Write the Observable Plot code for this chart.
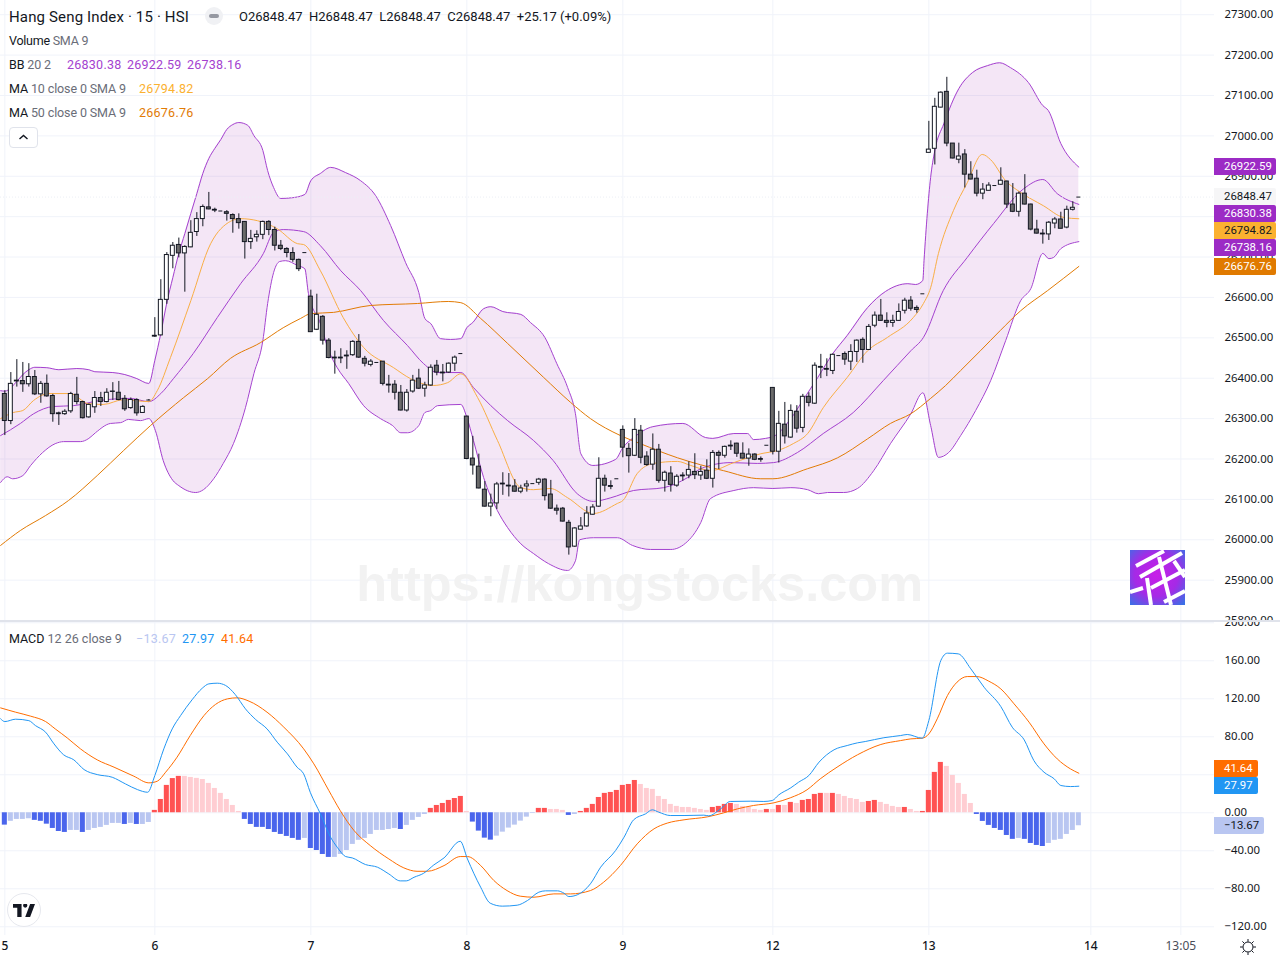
<!DOCTYPE html>
<html>
<head>
<meta charset="utf-8">
<script src="https://cdn.jsdelivr.net/npm/d3@7"></script>
<script src="https://cdn.jsdelivr.net/npm/@observablehq/plot@0.6"></script>
<style>
html,body{margin:0;padding:0;background:#fff;overflow:hidden}
#root{position:relative;width:1280px;height:960px;overflow:hidden;font-family:Roboto,"Liberation Sans",sans-serif;color:#131722}
#root svg.p{position:absolute;left:0;background:transparent}
.row{position:absolute;left:9px;font-size:12.5px;line-height:16px;white-space:pre;height:16px;letter-spacing:-0.12px}
.row .g{color:#6a6d78}
.val{position:absolute;top:0;letter-spacing:0.25px}
.box{position:absolute;left:1214px;height:17px;line-height:17px;font-size:11.4px;padding-left:10px;box-sizing:border-box;border-radius:0 2px 2px 0}
</style>
</head>
<body>
<div id="root"></div>
<script>
// ---------- candles (15 min, Hang Seng Index) ----------
const opens = [
26361,26294,26394,26393,26385,26403,26360,26386,26356,26313,
26311,26318,26359,26341,26303,26328,26351,26341,26366,26364,
26349,26326,26346,26314,26346,26505,26506,26594,26703,26730,
26709,26724,26762,26794,26823,26817,26814,26811,26804,26794,
26787,26737,26749,26755,26787,26767,26728,26720,26710,26693,
26711,26602,26520,26552,26493,26451,26451,26454,26457,26490,
26448,26433,26439,26441,26384,26384,26364,26320,26367,26399,
26374,26382,26431,26414,26414,26436,26461,26305,26201,26181,
26124,26082,26090,26139,26134,26132,26119,26132,26139,26141,
26149,26112,26077,26077,26042,25983,26025,26033,26062,26082,
26151,26133,26151,26272,26225,26208,26270,26206,26186,26223,
26146,26164,26134,26159,26159,26168,26159,26171,26151,26215,
26208,26233,26238,26213,26201,26211,26200,26234,26376,26218,
26285,26253,26317,26277,26354,26337,26428,26423,26418,26456,
26460,26441,26465,26495,26470,26530,26555,26542,26537,26542,
26567,26592,26574,26609,26958,26968,27070,27109,26981,26941,
26954,26904,26894,26857,26864,26877,26879,26887,26830,26812,
26857,26830,26768,26758,26756,26783,26793,26773,26817,26848.47];
const highs = [
26369,26414,26446,26439,26436,26419,26392,26408,26360,26316,
26322,26365,26402,26343,26336,26367,26365,26374,26389,26392,
26357,26351,26349,26332,26347,26550,26644,26711,26736,26747,
26728,26790,26810,26829,26860,26821,26814,26815,26807,26807,
26788,26766,26765,26789,26790,26774,26741,26723,26723,26695,
26711,26618,26608,26555,26498,26467,26473,26468,26493,26508,
26454,26446,26439,26441,26407,26394,26382,26372,26407,26422,
26390,26433,26444,26434,26438,26455,26461,26306,26256,26212,
26144,26113,26142,26166,26164,26149,26135,26146,26139,26152,
26151,26147,26086,26080,26048,26030,26055,26082,26087,26203,
26160,26146,26151,26282,26238,26300,26283,26218,26262,26236,
26170,26181,26161,26166,26193,26213,26182,26198,26221,26220,
26232,26245,26239,26240,26225,26213,26205,26234,26376,26318,
26340,26334,26332,26360,26364,26438,26459,26448,26460,26456,
26465,26483,26495,26500,26533,26564,26595,26562,26556,26584,
26598,26602,26579,26609,27036,27093,27109,27145,26981,26982,
26966,26936,26915,26882,26884,26877,26921,26888,26882,26861,
26904,26831,26791,26768,26788,26798,26811,26826,26837,26848.47];
const lows = [
26258,26285,26378,26365,26378,26357,26338,26353,26291,26283,
26308,26313,26334,26299,26301,26313,26330,26339,26345,26344,
26318,26323,26306,26313,26344,26501,26505,26583,26671,26698,
26613,26723,26751,26775,26817,26810,26814,26789,26759,26769,
26695,26719,26737,26743,26753,26715,26716,26698,26687,26664,
26711,26514,26518,26482,26448,26410,26436,26422,26454,26449,
26428,26428,26439,26381,26363,26346,26319,26316,26363,26372,
26353,26380,26406,26391,26412,26417,26461,26198,26160,26126,
26081,26057,26075,26110,26106,26118,26114,26118,26139,26135,
26096,26075,26061,26044,25962,25981,26024,26031,26061,26080,
26118,26124,26151,26203,26165,26206,26188,26182,26172,26140,
26118,26118,26130,26145,26151,26149,26147,26149,26128,26174,
26202,26221,26204,26200,26182,26196,26192,26234,26210,26190,
26237,26251,26264,26265,26329,26335,26399,26404,26409,26456,
26432,26419,26439,26437,26469,26525,26541,26525,26526,26541,
26559,26566,26561,26609,26958,26928,27069,26973,26943,26931,
26871,26891,26849,26842,26864,26877,26878,26820,26810,26799,
26829,26765,26757,26732,26741,26770,26770,26770,26814,26848.47];
const closes = [
26294,26386,26392,26385,26403,26360,26386,26355,26311,26311,
26317,26361,26341,26301,26334,26351,26341,26364,26367,26346,
26323,26346,26313,26329,26346,26503,26594,26705,26728,26709,
26725,26760,26794,26824,26818,26815,26814,26807,26794,26784,
26737,26745,26755,26787,26767,26728,26720,26710,26693,26670,
26711,26514,26557,26493,26450,26449,26449,26456,26490,26451,
26436,26441,26439,26386,26382,26364,26320,26364,26394,26374,
26382,26426,26414,26412,26436,26451,26461,26200,26184,26127,
26082,26090,26137,26137,26132,26119,26127,26137,26139,26149,
26108,26077,26072,26045,25981,26028,26033,26065,26080,26151,
26134,26131,26151,26228,26207,26272,26203,26185,26223,26146,
26166,26136,26156,26157,26173,26160,26168,26151,26215,26208,
26230,26231,26213,26201,26211,26198,26198,26234,26218,26287,
26256,26319,26275,26354,26339,26431,26426,26421,26458,26456,
26446,26465,26493,26470,26527,26555,26542,26537,26542,26564,
26592,26572,26569,26609,26966,27072,27107,26981,26944,26949,
26904,26892,26857,26867,26877,26877,26889,26830,26812,26857,
26830,26768,26758,26756,26785,26793,26770,26817,26822,26848.47];

// ---------- Bollinger bands: bar position, value ----------
const upperBar = [-0.7,0,2,3,4,5,7,9,12,14,15,18,20,22,24,25,26,27,28,29,30,31,32,33,34,35,36,37,38,39,40.5,41.5,43,43.8,44.8,46,48,50,51,52.6,54.3,56.8,59.3,61.8,64.3,66.8,69,70,71,72.6,74.3,76,77,78,79.8,81,83,86,87.6,90,92,93.8,95.1,96,98,101.8,103,104.8,108,113,116.8,118,121.5,123.8,124.8,126.8,128.4,131,133,135.5,138,140.4,143.8,146.8,150.5,151.8,153,153.2,154.3,155,156.5,159,161.3,163.8,165.8,167.6,170.6,173,173.9,176,179];
const upperVal = [26369,26368,26392,26409,26421,26427,26426,26421,26424,26421,26416,26414,26409,26399,26387,26444,26511,26587,26649,26709,26758,26808,26857,26907,26944,26969,26991,27016,27028,27033,27026,27001,26964,26914,26872,26845,26847,26855,26889,26907,26922,26909,26889,26852,26778,26686,26612,26548,26535,26498,26496,26498,26525,26538,26572,26577,26565,26558,26538,26501,26436,26377,26312,26213,26184,26199,26228,26253,26280,26288,26253,26251,26263,26263,26248,26251,26258,26300,26345,26402,26461,26506,26575,26615,26634,26632,26642,26691,26897,26964,27030,27117,27157,27174,27181,27169,27132,27075,27063,26981,26922.59];
const lowerBar = [-0.7,0.4,1.3,3,4.3,6.3,8.4,9.8,12.6,14,15.1,17.6,19.3,20.6,22.6,24,25.1,26.4,28,29,31.8,33.1,34.8,36.4,38.1,40.1,41.5,43,43.8,44.8,45.8,46.8,48.8,50,50.6,52.6,54,55.4,57.3,59.8,62.6,64.6,66,67.1,69,70,71,72.1,76,77,78.1,79.8,82.1,83.8,86,88.1,90.6,93.8,95.1,95.8,98.1,102.1,104.6,107.6,111,113.4,116,117.6,121.5,124.8,128,131,133.8,135.6,137.1,139.8,142.1,144.8,147.6,151,153,154.3,155.6,157.3,159.3,161.8,164.3,166.8,169.3,171,173,174,174.8,176,179];
const lowerVal = [26142,26156,26151,26159,26184,26216,26238,26243,26243,26251,26265,26288,26290,26298,26295,26300,26270,26196,26147,26134,26117,26124,26151,26189,26238,26327,26411,26493,26585,26662,26689,26691,26679,26671,26610,26535,26468,26426,26387,26332,26300,26283,26265,26265,26283,26315,26320,26332,26335,26303,26246,26154,26072,26030,25990,25966,25941,25924,25948,26000,26005,26005,25986,25976,25976,25991,26043,26102,26122,26129,26127,26129,26124,26114,26117,26117,26127,26171,26238,26312,26364,26283,26204,26216,26258,26320,26394,26493,26592,26622,26709,26696,26699,26721,26738.16];
const basisBar = [-0.7,2.6,4.8,8.1,11.4,15.9,20.9,24,26,28.1,31.4,35.4,39.3,43.1,44.8,46.4,49.8,52.6,56,59.3,63.1,67.1,69.8,72.1,76,78.1,81,83.8,88.1,91.4,95.4,98.1,101,104.8,109.8,113.8,116,121,125.4,128.1,132.1,136.4,141.4,146.4,151,153.1,156.4,160.4,164.8,169.8,173,175.4,179];
const basisVal = [26258,26288,26312,26330,26332,26345,26350,26342,26362,26399,26461,26550,26634,26709,26761,26768,26763,26728,26666,26617,26543,26481,26436,26414,26414,26377,26332,26295,26246,26196,26114,26095,26104,26122,26129,26154,26176,26191,26189,26191,26216,26263,26315,26394,26468,26501,26617,26699,26783,26869,26892,26857,26830.38];

// ---------- moving averages ----------
const ma10Bar = [-0.7,1.4,3,4.8,7.3,10.9,13.9,16.4,19.8,24,25.4,27.6,31,34.3,36,39.3,42.1,45.4,48.8,49.8,52.6,56.4,59.8,64.8,67.6,71.4,73.8,76,78.8,82.1,86,88.1,90.9,93.8,98.1,102.1,103,105.4,108.1,112.1,114.3,117.6,121.5,126,128.8,131.4,133.8,136.4,140.4,143.8,147.1,151.4,153.1,154.3,155.6,158.1,160.4,162.9,164.3,166.8,169.3,173.1,176.5,179];
const ma10Val = [26300,26315,26320,26345,26362,26362,26337,26335,26347,26342,26369,26451,26592,26733,26770,26795,26790,26770,26733,26731,26666,26550,26476,26426,26399,26382,26389,26411,26352,26246,26129,26124,26127,26104,26065,26090,26097,26164,26189,26194,26184,26171,26191,26213,26221,26238,26263,26327,26402,26468,26501,26550,26585,26624,26709,26815,26884,26954,26941,26889,26860,26827,26798,26794.82];
const ma50Bar = [-0.7,2.6,6.8,10.6,15.4,19.8,24.3,29.8,33.8,37.6,42.6,46.4,49.3,51,54.8,60.9,68.8,73.9,76,79.3,83.8,89.8,94.3,97.6,102.6,105.9,112.1,119.8,126,128,133.8,138.8,143.8,147.6,151,154.3,156.8,159.3,162.6,165.9,169.3,173.8,179];
const ma50Val = [25986,26023,26060,26097,26159,26221,26283,26352,26399,26449,26488,26525,26548,26560,26563,26580,26585,26590,26587,26548,26486,26402,26340,26300,26258,26238,26203,26171,26151,26151,26176,26203,26250,26288,26312,26350,26382,26419,26468,26518,26567,26617,26676.76];

// ---------- MACD ----------
const histVal = [
-13,-9,-7,-7,-6.3,-8,-9,-12,-16.5,-19.7,
-20.7,-18.6,-18.6,-20.7,-18.6,-16.5,-15.4,-13.3,-11.2,-11.2,
-12.3,-11.2,-12.3,-12.3,-10.2,2.5,14,28.8,36,38.3,
38.3,37.2,36.2,35,30.9,25.6,20.4,14,7.7,1.4,
-7,-12.3,-15.4,-15.4,-17.6,-20.7,-22.8,-24.9,-27,-29,
-27,-37.6,-39.7,-43.9,-47,-47,-43.9,-39.7,-33.3,-29,
-27,-22.8,-18.6,-18.6,-17.6,-16.5,-17.6,-13.3,-8,-4.9,
-1.8,4.6,7.7,9.8,13,15,17.2,1.4,-9.8,-19.3,
-26.7,-28.8,-24.6,-20.4,-16.1,-13,-8.8,-4.6,-0.7,4.6,
4.6,3.5,3.5,2.5,-2.8,-1.8,1.4,4.6,8.8,16.1,
20.4,21.4,23.5,28.8,29.8,34,29.8,25.6,24.6,17.2,
14,8.8,6.7,5.6,5.6,4.6,3.5,2.5,5.6,6.7,
8.8,9.8,8.8,6.7,5.6,3.5,2.5,3.5,3.5,7.7,
7.7,10.9,9.8,13,14,19.3,20.4,20.4,20.4,19.3,
17.2,15,14,10.9,11.9,13,10.9,8.8,6.7,5.6,
5.6,3.5,1.4,1.4,23.5,42.5,53,48.8,39.3,30.9,
19.3,9.8,-1.8,-9.1,-13.3,-16.5,-18.6,-23.9,-28,-27,
-28,-32.3,-34.4,-35.5,-32.3,-29,-28,-22.8,-18.6,-13.67];
const histKind = ("DLLLLDDDDDDLLDLLLLLLDLDLL"+"RRRRR"+"PPPPPPPPPP"+"DDDDDDDDDD"+"L"+"DDDD"+"LLLLLLLLLLL"+"D"+"LLLL"+"RRRRRR"+"P"+"DDDD"+"LLLLLLL"+"RR"+"PPP"+"D"+"L"+"RRRRRRRRRR"+"PPPPPPPPPPPP"+"RRRR"+"PPPPP"+"RPRPRP"+"RRRR"+"P"+"R"+"PPPPP"+"RR"+"PPPP"+"R"+"PP"+"RRRR"+"PPPPP"+"DDDDDDD"+"L"+"DDDD"+"LLLLLL").split("");
const histColor = {R:"#ff5252",P:"#ffcdd2",D:"#4a65ec",L:"#b9c6f1"};

const macdBar = [-0.7,0,1.8,4,5.1,6.8,8.2,9.8,11.5,13.2,15.4,17.9,20.1,22.1,23.8,25,26.5,27.9,29.3,31.2,32.9,34,35.4,36.8,38.4,40.1,41.8,43.7,45.4,47.1,48.7,49.8,50.9,52.6,54.3,55.4,56.8,57.9,60.1,62.1,64,65.9,66.9,68.2,69.8,71.5,73.2,75.9,77.1,79.3,80.9,82.9,85.4,87.1,89,90.1,92.1,93.2,94,95.4,97.6,99.3,101.8,103.2,104.8,106.8,107.9,109,110.9,113.2,116.5,117.3,119.3,120.9,124.3,126.5,127.9,129,131,132.3,134,135.7,138.2,140.4,142.1,143.4,146.5,149.3,150.4,152.9,154,156,157.1,158.9,161,163.2,166,167.9,169.9,171.5,173.2,174.9,176,177.6,179];
const macdVal = [98.9,96,98.5,97,91.8,84.8,72.5,61,55.7,45.5,40.2,37.4,30.4,24.4,21.6,39.2,67.3,88.3,102.4,118.9,131.1,135.7,136.4,134,124.5,109.4,98.2,88.3,74.3,62,48,41,21.6,-1.2,-25.8,-36.3,-46.1,-47.5,-54.5,-57.3,-64.4,-71.7,-71.7,-67.9,-63.7,-54.9,-47.5,-30,-48.6,-78.3,-95.2,-98.3,-97.3,-92.4,-83.6,-82.2,-82.2,-84.7,-88.2,-86.4,-74.8,-57.3,-39.7,-25.7,-7.4,-1.1,3.1,0.6,-2.9,-2.9,-2.5,-3.2,4.1,11.9,12.2,11.9,12.9,18.9,26.3,32.2,39.2,53.3,66.3,70.8,73.6,75,79,81.3,82.4,78.5,97.1,160.3,168,167.3,151.5,132.2,111.8,90.1,76.7,55,42.7,35.7,28.7,27.6,27.97];
const signalBar = [-0.7,1.8,4.3,6.8,8.4,10.4,12.6,15.4,18.2,21.5,24,25.4,26.8,28.7,30.9,33.2,35.1,37.1,38.7,40.7,43.7,46.5,49.8,51.5,54,55.9,58.2,60.9,64,66.5,68.7,70.4,73.2,75.9,77.1,79.3,81.5,83.7,85.9,88.2,91.5,94.3,97.6,99.8,102.6,105.4,108.2,110.4,113.2,117.1,119.8,122.1,124.8,128.2,130.9,133.7,135.9,138.7,142.1,146,149.3,151,152.9,154,155.4,157.1,158.7,160.4,162,164,166,168.2,170.7,173.2,175.4,177.6,179];
const signalVal = [110.4,105.9,101.7,96,88.3,78.8,67.3,55.7,48,38.5,31.5,33.2,42.7,58.5,81.3,102.4,114,119.9,121,117.5,105.9,90.1,67.3,51.5,23.4,2.3,-18.7,-34.5,-48.6,-58,-61.6,-61.6,-55.6,-46.1,-46.1,-55.5,-71.3,-81.9,-87.8,-88.9,-85.4,-85.4,-81.9,-73.1,-55.5,-32.7,-16.9,-10.9,-7.4,-4.3,-0.1,4.1,7.7,10.5,15.7,24.2,35.7,48,61,71.9,76,77.8,78.5,83,98.9,123.4,137.5,143.4,143.4,138.5,130.4,114.7,95.4,72.5,56.7,46.2,41.64];

// ---------- ticks ----------
const priceTicks = [25800,25900,26000,26100,26200,26300,26400,26500,26600,26700,26800,26900,27000,27100,27200,27300];
const priceAxisTicks = [25800,25900,26000,26100,26200,26300,26400,26500,26600,26700,26900,27000,27100,27200,27300];
const macdTicks = [-120,-80,-40,0,40,80,120,160,200];
const macdAxisTicks = [-120,-80,-40,0,80,120,160,200];
const dayBars = [0,25,51,77,103,128,154,181];
const dayLabels = ["5","6","7","8","9","12","13","14"];
const timeBar = [196];
const timeLabel = ["13:05"];

const bars = opens.map((o,i)=>({i,o,h:highs[i],l:lows[i],c:closes[i]}));
const pts = (b,v)=>b.map((x,k)=>({x,v:v[k]}));
const n = Math.max(upperBar.length,lowerBar.length);
const band = d3.range(n).map(k=>({
  xu:upperBar[Math.min(k,upperBar.length-1)], yu:upperVal[Math.min(k,upperVal.length-1)],
  xl:lowerBar[Math.min(k,lowerBar.length-1)], yl:lowerVal[Math.min(k,lowerVal.length-1)]}));

const X = {domain:[-0.722,201.61],range:[0,1214],axis:null};
const grid = "#f0f3fa";
const fmt = d3.format(".2f");
const purple="#a441cf", amber="#fbb130", orange="#e27b05";
const curve = "monotone-x";
const W = 1280;

const pricePlot = Plot.plot({
  width:W,height:620,marginLeft:0,marginRight:66,marginTop:0,marginBottom:0,
  className:"p",style:{overflow:"hidden",background:"transparent",position:"absolute",top:"0px",left:"0px"},
  x:X, y:{domain:[25800.1,27335.2],range:[620,0],axis:null},
  marks:[
    Plot.gridY(priceTicks,{stroke:grid,strokeOpacity:1}),
    Plot.gridX(dayBars.concat(timeBar),{stroke:grid,strokeOpacity:1}),
    Plot.text(["https://kongstocks.com"],{x:105.8,y:25889,text:d=>d,fontSize:50.5,fontWeight:"bold",fill:"#f2f2f2",fontFamily:"Liberation Sans",textAnchor:"middle"}),
    Plot.area(band,{x1:"xu",y1:"yu",x2:"xl",y2:"yl",fill:"#9c27b0",fillOpacity:0.115,curve}),
    Plot.line(pts(upperBar,upperVal),{x:"x",y:"v",stroke:purple,strokeWidth:1,curve}),
    Plot.line(pts(lowerBar,lowerVal),{x:"x",y:"v",stroke:purple,strokeWidth:1,curve}),
    Plot.line(pts(basisBar,basisVal),{x:"x",y:"v",stroke:purple,strokeWidth:1,curve}),
    Plot.line(pts(ma50Bar,ma50Val),{x:"x",y:"v",stroke:orange,strokeWidth:1,curve}),
    Plot.line(pts(ma10Bar,ma10Val),{x:"x",y:"v",stroke:"#f9ae45",strokeWidth:1,curve}),
    Plot.ruleY([closes[closes.length-1]],{stroke:"#eceff5",strokeDasharray:"1,2",strokeWidth:1}),
    Plot.ruleX(bars,{x:"i",y1:"l",y2:"h",stroke:"#131722",strokeWidth:1}),
    Plot.rect(bars.filter(d=>d.o!==d.c),{x1:d=>d.i-0.33,x2:d=>d.i+0.33,y1:"o",y2:"c",
      fill:d=>d.c>=d.o?"#ffffff":"#6a6a6a",stroke:"#131722",strokeWidth:1}),
    Plot.ruleY(bars.filter(d=>d.o===d.c),{x1:d=>d.i-0.33,x2:d=>d.i+0.33,y:"c",stroke:"#131722",strokeWidth:1}),
    Plot.axisY(priceAxisTicks,{anchor:"right",tickSize:0,tickPadding:10,tickFormat:fmt,label:null,fontSize:11.4,fill:"#131722",stroke:null})
  ]
});

const macdPlot = Plot.plot({
  width:W,height:338,marginLeft:0,marginRight:66,marginTop:0,marginBottom:25,
  className:"p",style:{overflow:"hidden",background:"transparent",position:"absolute",top:"622px",left:"0px"},
  x:X, y:{domain:[-129.2,200.3],range:[313,0],axis:null},
  marks:[
    Plot.gridY(macdTicks,{stroke:grid,strokeOpacity:1}),
    Plot.gridX(dayBars.concat(timeBar),{stroke:grid,strokeOpacity:1}),
    Plot.rect(histVal.map((v,i)=>({i,v,k:histKind[i]})),{x1:d=>d.i-0.42,x2:d=>d.i+0.42,y1:0,y2:"v",fill:d=>histColor[d.k]}),
    Plot.line(pts(signalBar,signalVal),{x:"x",y:"v",stroke:"#ff6d00",strokeWidth:1,curve}),
    Plot.line(pts(macdBar,macdVal),{x:"x",y:"v",stroke:"#2196f3",strokeWidth:1,curve}),
    Plot.axisY(macdAxisTicks,{anchor:"right",tickSize:0,tickPadding:10,tickFormat:fmt,label:null,fontSize:11.4,fill:"#131722",stroke:null}),
    Plot.axisX(dayBars,{anchor:"bottom",tickSize:0,tickPadding:0,tickFormat:d=>dayLabels[dayBars.indexOf(d)],label:null,fontSize:12,fontWeight:500,fill:"#131722",stroke:null,dy:6}),
    Plot.axisX(timeBar,{anchor:"bottom",tickSize:0,tickPadding:0,tickFormat:d=>timeLabel[0],label:null,fontSize:12,fill:"#4a4e59",stroke:null,dy:6})
  ]
});

const root = document.getElementById("root");
root.append(pricePlot,macdPlot);

function html(s){const t=document.createElement("template");t.innerHTML=s.trim();root.append(t.content.firstChild);}
// pane separator
html('<div style="position:absolute;left:0;top:620px;width:1280px;height:2px;background:#e0e3eb"></div>');

// legend
const last = closes[closes.length-1];
const tail = a=>fmt(a[a.length-1]);
html(`<div class="row" style="top:9px;font-size:15px;line-height:17px;letter-spacing:0.15px">Hang Seng Index · 15 · HSI</div>`);
html(`<div style="position:absolute;left:205px;top:7px;width:18px;height:18px;border-radius:9px;background:#f0f1f4"><div style="position:absolute;left:4px;top:7px;width:10px;height:4px;border-radius:2px;background:#9598a1"></div></div>`);
html(`<div class="row" style="left:239px;top:9px;font-size:13px;letter-spacing:0">O${fmt(last)}  H${fmt(last)}  L${fmt(last)}  C${fmt(last)}  +25.17 (+0.09%)</div>`);
html(`<div class="row" style="top:33px;letter-spacing:-0.25px">Volume <span class="g">SMA 9</span></div>`);
html(`<div class="row" style="top:57px">BB <span class="g">20 2</span><span class="val" style="left:58px;color:${purple}">${tail(basisVal)}</span><span class="val" style="left:118px;color:${purple}">${tail(upperVal)}</span><span class="val" style="left:178px;color:${purple}">${tail(lowerVal)}</span></div>`);
html(`<div class="row" style="top:81px">MA <span class="g">10 close 0 SMA 9</span><span class="val" style="left:130px;color:${amber}">${tail(ma10Val)}</span></div>`);
html(`<div class="row" style="top:105px">MA <span class="g">50 close 0 SMA 9</span><span class="val" style="left:130px;color:${orange}">${tail(ma50Val)}</span></div>`);
html(`<div style="position:absolute;left:9px;top:127px;width:27px;height:19px;border:1px solid #e0e3eb;border-radius:4px;background:#fff"><svg width="27" height="19" style="position:absolute;left:0;top:0"><path d="M9.5 11 L13.5 7.5 L17.5 11" fill="none" stroke="#131722" stroke-width="1.4"/></svg></div>`);
html(`<div class="row" style="top:631px;letter-spacing:0">MACD <span style="color:#6a6d78">12 26 close 9</span><span class="val" style="left:127px;color:#b9c6f1">${tail(histVal)}</span><span class="val" style="left:173px;color:#2196f3">${tail(macdVal)}</span><span class="val" style="left:212px;color:#ff6d00">${tail(signalVal)}</span></div>`);

// last-value labels
function box(t,w,bg,fg,txt){html(`<div class="box" style="top:${t}px;width:${w}px;background:${bg};color:${fg}">${txt}</div>`);}
box(158,62,"#9c2bc5","#fff",tail(upperVal));
box(188,62,"#f6f6f7","#131722",fmt(last));
box(205,62,"#9c2bc5","#fff",tail(basisVal));
box(222,62,"#fbb130","#131722",tail(ma10Val));
box(239,62,"#9c2bc5","#fff",tail(lowerVal));
box(258,62,"#e07a00","#fff",tail(ma50Val));
box(760,44,"#ff6d00","#fff",tail(signalVal));
box(777,44,"#2196f3","#fff",tail(macdVal));
box(817,50,"#b9c6f1","#131722",tail(histVal));

// logo stamp
html(`<svg style="position:absolute;left:1130px;top:550px" width="55" height="55" viewBox="0 0 55 55">
<defs><radialGradient id="lg" cx=".48" cy=".45" r=".72"><stop offset="0" stop-color="#c81fe8"/><stop offset=".55" stop-color="#a52ae6"/><stop offset="1" stop-color="#3a70e6"/></radialGradient></defs>
<rect width="55" height="55" fill="url(#lg)"/>
<g stroke="#fff" stroke-width="4" fill="none">
<path d="M6 16 L34 1"/><path d="M0 42 L13 38"/><path d="M10 27 L52 3"/><path d="M17 28 L21 55"/><path d="M29 7 L41 55"/>
<path d="M21 38 L55 20"/><path d="M34 52 L55 41"/><path d="M44 11 L55 27"/>
</g></svg>`);

// TradingView badge
html(`<div style="position:absolute;left:7px;top:893px;width:32px;height:32px;border-radius:17px;border:1px solid #e6e8ee;background:#fff"><svg style="position:absolute;left:5px;top:10px" width="22" height="13" viewBox="0 0 36 21"><path fill="#131722" d="M14 0H0v6h7v15h7V0zM28 21h-8L28 0h8l-8 21zM20 6a3.5 3.5 0 1 0 0-7 3.5 3.5 0 0 0 0 7z"/></svg></div>`);

// settings icon
html(`<svg style="position:absolute;left:1238.5px;top:937.5px" width="18" height="18" viewBox="0 0 18 18"><circle cx="9" cy="9" r="5" fill="none" stroke="#131722" stroke-width="1"/><path d="M9 1v2.8M9 14.2V17M1 9h2.8M14.2 9H17M3.4 3.4l1.9 1.9M12.7 12.7l1.9 1.9M3.4 14.6l1.9-1.9M12.7 5.3l1.9-1.9" stroke="#131722" stroke-width="1"/></svg>`);
</script>
</body>
</html>
